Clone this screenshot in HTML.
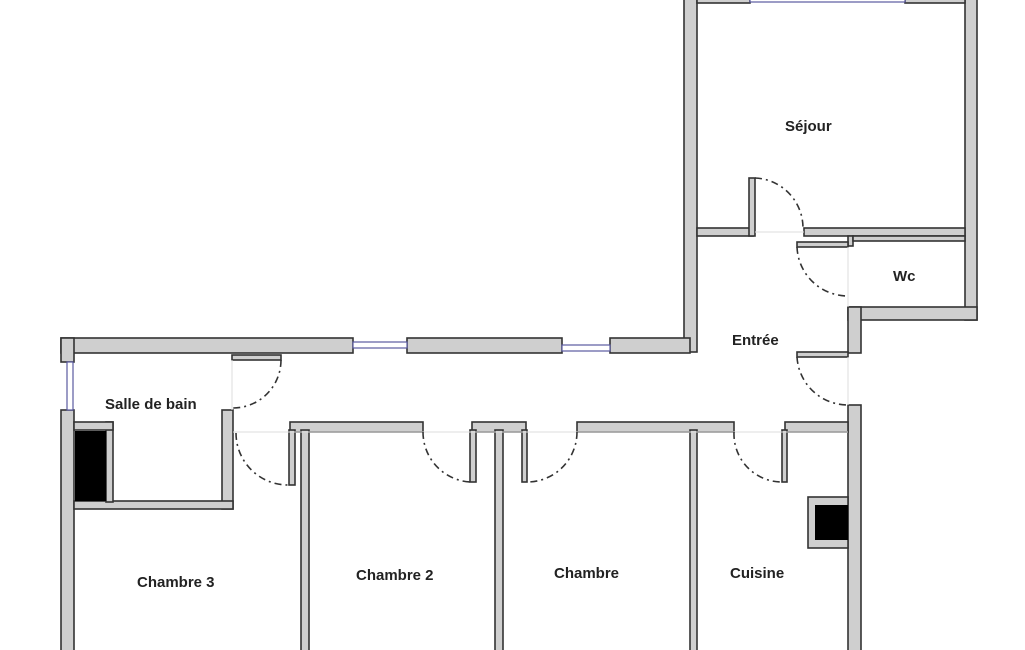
<!DOCTYPE html>
<html><head><meta charset="utf-8"><style>
html,body{margin:0;padding:0;background:#fff;}
svg{display:block;}
text{font-family:"Liberation Sans",sans-serif;font-weight:bold;font-size:15px;fill:#222;}
</style></head><body>
<svg width="1025" height="650" viewBox="0 0 1025 650" xmlns="http://www.w3.org/2000/svg">
<g fill="#cfcfcf" stroke="#333" stroke-width="1.6">
<!-- sejour outer -->
<rect x="684" y="-5" width="13" height="357"/>
<rect x="965" y="-5" width="12" height="325"/>
<rect x="697" y="-5" width="53" height="8"/>
<rect x="905" y="-5" width="60" height="8"/>
<rect x="848" y="307" width="129" height="13"/>
<rect x="848" y="307" width="13" height="46"/>
<rect x="848" y="405" width="13" height="250"/>
<!-- sejour bottom -->
<rect x="697" y="228" width="56" height="8"/>
<rect x="749" y="178" width="6" height="58"/>
<rect x="804" y="228" width="161" height="8"/>
<rect x="848" y="236" width="5" height="10"/>
<rect x="853" y="236" width="112" height="5"/>
<!-- wc door leaf & entree door leaf -->
<rect x="797" y="242" width="51" height="5"/>
<rect x="797" y="352" width="51" height="5"/>
<!-- corridor top -->
<rect x="61" y="338" width="292" height="15"/>
<rect x="407" y="338" width="155" height="15"/>
<rect x="610" y="338" width="80" height="15"/>
<!-- left wall -->
<rect x="61" y="338" width="13" height="24"/>
<rect x="61" y="410" width="13" height="245"/>
<!-- bath -->
<rect x="232" y="355" width="49" height="5"/>
<rect x="222" y="410" width="11" height="99"/>
<rect x="74" y="501" width="159" height="8"/>
<rect x="106" y="422" width="7" height="80"/>
<rect x="74" y="422" width="39" height="8"/>
<!-- corridor bottom -->
<rect x="290" y="422" width="133" height="10"/>
<rect x="472" y="422" width="54" height="10"/>
<rect x="577" y="422" width="157" height="10"/>
<rect x="785" y="422" width="63" height="10"/>
<rect x="289" y="430" width="6" height="55"/>
<rect x="301" y="430" width="8" height="225"/>
<rect x="470" y="430" width="6" height="52"/>
<rect x="495" y="430" width="8" height="225"/>
<rect x="522" y="430" width="5" height="52"/>
<rect x="690" y="430" width="7" height="225"/>
<rect x="782" y="430" width="5" height="52"/>
<!-- cuisine box -->
<rect x="808" y="497" width="40" height="51"/>
</g>
<rect x="75" y="431" width="31" height="70" fill="#000"/>
<rect x="815" y="505" width="33" height="35" fill="#000"/>
<!-- windows -->
<g fill="#fff" stroke="#5a5aa0" stroke-width="1.2">
<rect x="750" y="-2" width="155" height="4"/>
<rect x="353" y="342" width="54" height="6"/>
<rect x="562" y="345" width="48" height="6"/>
<rect x="67" y="362" width="6" height="48"/>
</g>
<!-- door threshold lines -->
<g stroke="#ddd" stroke-width="1">
<line x1="232" y1="360" x2="232" y2="410"/>
<line x1="233" y1="432" x2="848" y2="432"/>
<line x1="755" y1="232" x2="804" y2="232"/>
<line x1="848" y1="247" x2="848" y2="307"/>
<line x1="848" y1="357" x2="848" y2="405"/>
</g>
<!-- door arcs -->
<g fill="none" stroke="#333" stroke-width="1.6" stroke-dasharray="7,4,2,4">
<path d="M755 178 A50 50 0 0 1 803 228"/>
<path d="M797 247 A51 51 0 0 0 848 296"/>
<path d="M797 357 A51 51 0 0 0 848 405"/>
<path d="M281 360 A48 48 0 0 1 233 408"/>
<path d="M236 433 A52 52 0 0 0 289 485"/>
<path d="M423 432 A50 50 0 0 0 470 482"/>
<path d="M577 432 A50 50 0 0 1 527 482"/>
<path d="M734 432 A48 48 0 0 0 782 482"/>
</g>
<text x="785" y="131">Séjour</text>
<text x="893" y="281">Wc</text>
<text x="732" y="345">Entrée</text>
<text x="105" y="409">Salle de bain</text>
<text x="137" y="587">Chambre 3</text>
<text x="356" y="580">Chambre 2</text>
<text x="554" y="578">Chambre</text>
<text x="730" y="578">Cuisine</text>
</svg>
</body></html>
